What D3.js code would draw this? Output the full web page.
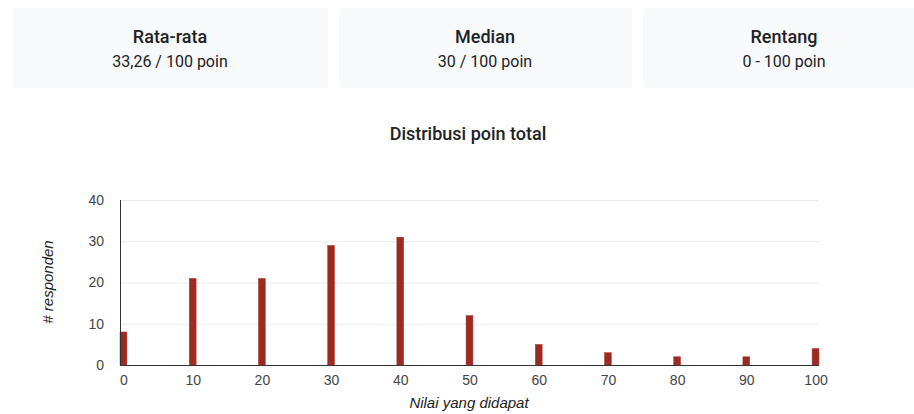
<!DOCTYPE html>
<html>
<head>
<meta charset="utf-8">
<script src="https://cdn.jsdelivr.net/npm/d3@7/dist/d3.min.js"></script>
<style>
  html, body { margin: 0; padding: 0; background: #fff; }
  svg { display: block; }
</style>
</head>
<body>
<svg id="chart" width="914" height="414"></svg>
<script>
// Summary cards
const cardTitles = ["Rata-rata", "Median", "Rentang"];
const cardValues = ["33,26 / 100 poin", "30 / 100 poin", "0 - 100 poin"];

// Histogram of total points
const scores = [0, 10, 20, 30, 40, 50, 60, 70, 80, 90, 100];
const respondents = [8, 21, 21, 29, 31, 12, 5, 3, 2, 2, 4];
const yTicks = [0, 10, 20, 30, 40];
const xTicks = [0, 10, 20, 30, 40, 50, 60, 70, 80, 90, 100];

const chartTitle = "Distribusi poin total";
const xTitle = "Nilai yang didapat";
const yTitle = "# responden";

const svg = d3.select("#chart");
const font = "Roboto, Arial, sans-serif";

// Cards
const cards = [
  { x0: 13, x1: 328, mid: 170 },
  { x0: 339, x1: 632, mid: 485 },
  { x0: 643, x1: 920, mid: 784 }
];
const cardG = svg.append("g");
cards.forEach((c, i) => {
  cardG.append("rect")
    .attr("x", c.x0).attr("y", 8)
    .attr("width", c.x1 - c.x0).attr("height", 80)
    .attr("rx", 4)
    .attr("fill", "#f8f9fa");
  cardG.append("text")
    .attr("x", c.mid).attr("y", 43)
    .attr("text-anchor", "middle")
    .attr("font-family", font).attr("font-size", 18).attr("font-weight", 500)
    .attr("fill", "#202124")
    .text(cardTitles[i]);
  cardG.append("text")
    .attr("x", c.mid).attr("y", 67)
    .attr("text-anchor", "middle")
    .attr("font-family", font).attr("font-size", 16)
    .attr("fill", "#202124")
    .text(cardValues[i]);
});

// Chart title
svg.append("text")
  .attr("x", 468).attr("y", 140)
  .attr("text-anchor", "middle")
  .attr("font-family", font).attr("font-size", 18).attr("font-weight", 500)
  .attr("fill", "#202124")
  .text(chartTitle);

// Plot area
const plotLeft = 120, plotRight = 819, plotTop = 200, plotBottom = 365;
const x = d3.scaleLinear().domain([-0.5, 100.5]).range([plotLeft, plotRight]);
const y = d3.scaleLinear().domain([0, 40]).range([plotBottom, plotTop]);
const barW = x(1) - x(0);

const axisFont = "Arial, 'Liberation Sans', sans-serif";

// Gridlines
svg.append("g")
  .selectAll("line")
  .data(yTicks.filter(d => d > 0))
  .join("line")
  .attr("x1", plotLeft).attr("x2", plotRight)
  .attr("y1", d => y(d) + 0.5).attr("y2", d => y(d) + 0.5)
  .attr("stroke", "#ebebeb").attr("stroke-width", 1);

// Bars
svg.append("g")
  .selectAll("rect")
  .data(scores.map((s, i) => ({ s, n: respondents[i] })))
  .join("rect")
  .attr("x", d => x(d.s) - barW / 2)
  .attr("y", d => y(d.n))
  .attr("width", barW)
  .attr("height", d => y(0) - y(d.n))
  .attr("fill", "#9b2a20")
  .attr("stroke", "#b0473c").attr("stroke-width", 0.5);

// Axis lines
svg.append("line")
  .attr("x1", plotLeft).attr("x2", plotRight)
  .attr("y1", plotBottom + 0.5).attr("y2", plotBottom + 0.5)
  .attr("stroke", "#333").attr("stroke-width", 1);
svg.append("line")
  .attr("x1", plotLeft + 0.5).attr("x2", plotLeft + 0.5)
  .attr("y1", plotTop).attr("y2", plotBottom + 1)
  .attr("stroke", "#333").attr("stroke-width", 1);

// Y tick labels
const yAxis = d3.axisLeft(y).tickValues(yTicks).tickSize(0).tickPadding(16);
const yg = svg.append("g").attr("transform", `translate(${plotLeft},0)`).call(yAxis);
yg.select(".domain").remove();
yg.selectAll("text")
  .attr("font-family", axisFont).attr("font-size", 14)
  .attr("fill", "#444");

// X tick labels
const xAxis = d3.axisBottom(x).tickValues(xTicks).tickSize(0).tickPadding(10);
const xg = svg.append("g").attr("transform", `translate(0,${plotBottom})`).call(xAxis);
xg.select(".domain").remove();
xg.selectAll("text")
  .attr("font-family", axisFont).attr("font-size", 14)
  .attr("fill", "#444");

// Axis titles
svg.append("text")
  .attr("x", 469).attr("y", 408)
  .attr("text-anchor", "middle")
  .attr("font-family", axisFont).attr("font-size", 15).attr("font-style", "italic")
  .attr("fill", "#222")
  .text(xTitle);
svg.append("text")
  .attr("transform", "translate(53,282) rotate(-90)")
  .attr("text-anchor", "middle")
  .attr("font-family", axisFont).attr("font-size", 15).attr("font-style", "italic")
  .attr("fill", "#222")
  .text(yTitle);
</script>
</body>
</html>
